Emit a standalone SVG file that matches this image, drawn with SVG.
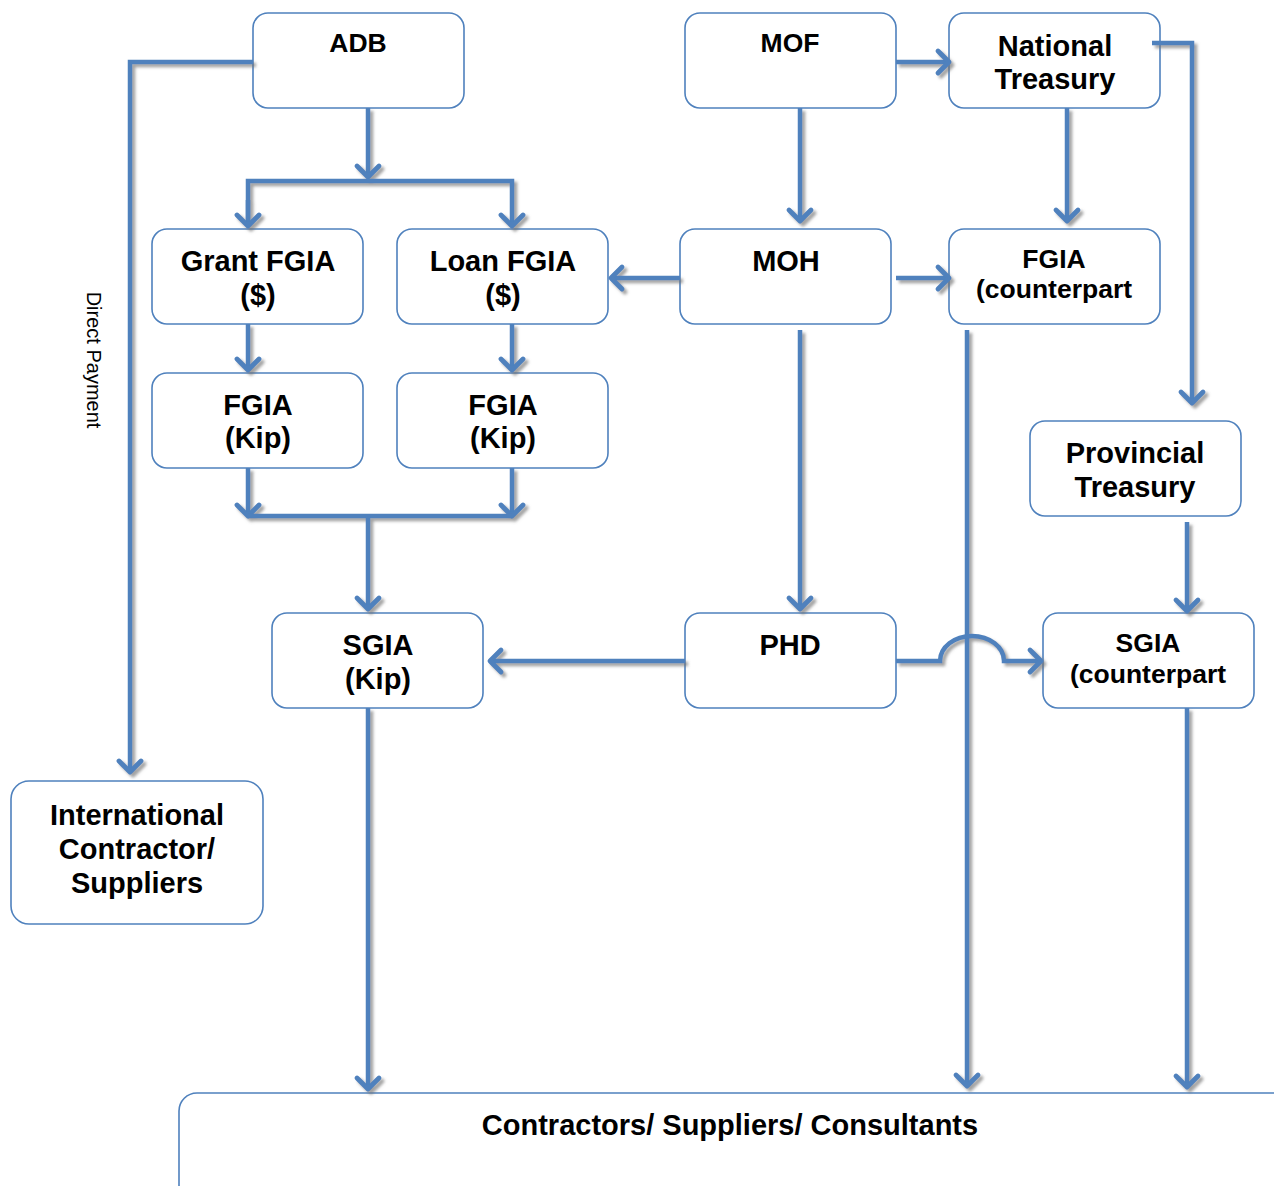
<svg xmlns="http://www.w3.org/2000/svg" width="1274" height="1186" viewBox="0 0 1274 1186">
  <style>
    .box { fill: #ffffff; stroke: #4F81BD; stroke-width: 1.6; }
    .lbl { font-family: "Liberation Sans", Arial, sans-serif; font-weight: bold; fill: #000000; text-anchor: middle; }
    .s28 { font-size: 29px; }
    .s26 { font-size: 26.5px; }
    .wire { fill: none; stroke: #4F81BD; stroke-width: 4.5; stroke-linejoin: miter; }
    .note { font-family: "Liberation Sans", Arial, sans-serif; font-size: 20px; fill: #000000; text-anchor: middle; }
  </style>
  <defs>
    <marker id="chev" markerUnits="userSpaceOnUse" markerWidth="30" markerHeight="30" viewBox="-16 -15 20 30" refX="0" refY="0" orient="auto">
      <path d="M-11,-11 L0,0 L-11,11" fill="none" stroke="#4F81BD" stroke-width="4.8" stroke-linecap="round" stroke-linejoin="round"/>
    </marker>
    <filter id="shade" x="-20%" y="-20%" width="140%" height="140%">
      <feDropShadow dx="3" dy="3" stdDeviation="1.6" flood-color="#707070" flood-opacity="0.65"/>
    </filter>
  </defs>

  <!-- nodes -->
  <g id="adb"><rect class="box" x="253" y="13" width="211" height="95" rx="15"/><text class="lbl s26" x="358" y="52">ADB</text></g>
  <g id="mof"><rect class="box" x="685" y="13" width="211" height="95" rx="15"/><text class="lbl s26" x="790" y="52">MOF</text></g>
  <g id="national-treasury"><rect class="box" x="949" y="13" width="211" height="95" rx="15"/><text class="lbl s28" x="1055" y="56">National</text><text class="lbl s28" x="1055" y="89">Treasury</text></g>

  <g id="grant-fgia"><rect class="box" x="152" y="229" width="211" height="95" rx="15"/><text class="lbl s28" x="258" y="271">Grant FGIA</text><text class="lbl s28" x="258" y="305">($)</text></g>
  <g id="loan-fgia"><rect class="box" x="397" y="229" width="211" height="95" rx="15"/><text class="lbl s28" x="503" y="271">Loan FGIA</text><text class="lbl s28" x="503" y="305">($)</text></g>
  <g id="moh"><rect class="box" x="680" y="229" width="211" height="95" rx="15"/><text class="lbl s28" x="786" y="271">MOH</text></g>
  <g id="fgia-counterpart"><rect class="box" x="949" y="229" width="211" height="95" rx="15"/><text class="lbl s26" x="1054" y="268">FGIA</text><text class="lbl s26" x="1054" y="298">(counterpart</text></g>

  <g id="fgia-kip-grant"><rect class="box" x="152" y="373" width="211" height="95" rx="15"/><text class="lbl s28" x="258" y="415">FGIA</text><text class="lbl s28" x="258" y="448">(Kip)</text></g>
  <g id="fgia-kip-loan"><rect class="box" x="397" y="373" width="211" height="95" rx="15"/><text class="lbl s28" x="503" y="415">FGIA</text><text class="lbl s28" x="503" y="448">(Kip)</text></g>
  <g id="provincial-treasury"><rect class="box" x="1030" y="421" width="211" height="95" rx="15"/><text class="lbl s28" x="1135" y="463">Provincial</text><text class="lbl s28" x="1135" y="497">Treasury</text></g>

  <g id="sgia-kip"><rect class="box" x="272" y="613" width="211" height="95" rx="15"/><text class="lbl s28" x="378" y="655">SGIA</text><text class="lbl s28" x="378" y="689">(Kip)</text></g>
  <g id="phd"><rect class="box" x="685" y="613" width="211" height="95" rx="15"/><text class="lbl s28" x="790" y="655">PHD</text></g>
  <g id="sgia-counterpart"><rect class="box" x="1043" y="613" width="211" height="95" rx="15"/><text class="lbl s26" x="1148" y="652">SGIA</text><text class="lbl s26" x="1148" y="683">(counterpart</text></g>

  <g id="international"><rect class="box" x="11" y="781" width="252" height="143" rx="18"/><text class="lbl s28" x="137" y="825">International</text><text class="lbl s28" x="137" y="859">Contractor/</text><text class="lbl s28" x="137" y="893">Suppliers</text></g>
  <g id="contractors"><rect class="box" x="179" y="1093" width="1112" height="130" rx="18"/><text class="lbl s28" x="730" y="1135">Contractors/ Suppliers/ Consultants</text></g>

  <!-- connectors -->
  <g id="connectors" filter="url(#shade)">
    <path class="wire" d="M253,62 H130 V772" marker-end="url(#chev)"/>
    <path class="wire" d="M368,108 V177" marker-end="url(#chev)"/>
    <path class="wire" d="M248,226 V181 H512 V226" marker-end="url(#chev)"/>
    <path class="wire" d="M248,200 V226" marker-end="url(#chev)"/>
    <path class="wire" d="M248,324 V370" marker-end="url(#chev)"/>
    <path class="wire" d="M512,324 V370" marker-end="url(#chev)"/>
    <path class="wire" d="M248,468 V516" marker-end="url(#chev)"/>
    <path class="wire" d="M512,468 V516" marker-end="url(#chev)"/>
    <path class="wire" d="M248,516 H512"/>
    <path class="wire" d="M368,516 V609" marker-end="url(#chev)"/>
    <path class="wire" d="M896,62 H949" marker-end="url(#chev)"/>
    <path class="wire" d="M800,108 V221" marker-end="url(#chev)"/>
    <path class="wire" d="M1067,108 V221" marker-end="url(#chev)"/>
    <path class="wire" d="M1152,43 H1192 V403" marker-end="url(#chev)"/>
    <path class="wire" d="M680,278 H611" marker-end="url(#chev)"/>
    <path class="wire" d="M896,278 H949" marker-end="url(#chev)"/>
    <path class="wire" d="M800,330 V609" marker-end="url(#chev)"/>
    <path class="wire" d="M967,330 V1086" marker-end="url(#chev)"/>
    <path class="wire" d="M1187,522 V611" marker-end="url(#chev)"/>
    <path class="wire" d="M685,661 H490" marker-end="url(#chev)"/>
    <path class="wire" d="M896,661 H940 A32,25 0 0 1 1004,661 H1041" marker-end="url(#chev)"/>
    <path class="wire" d="M368,708 V1089" marker-end="url(#chev)"/>
    <path class="wire" d="M1187,708 V1087" marker-end="url(#chev)"/>
  </g>

  <text class="note" transform="translate(87,360) rotate(90)">Direct Payment</text>
</svg>
